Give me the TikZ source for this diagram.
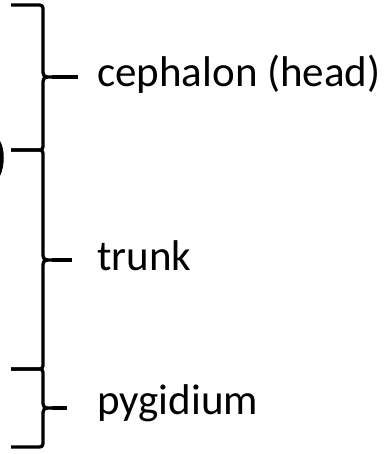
\documentclass[tikz,border=0pt]{standalone}
\usepackage{fontspec}
\setmainfont{Carlito}
\usetikzlibrary{positioning}

\tikzset{
  brace line/.style={line width=3.3pt,line cap=butt,line join=round},
  part label/.style={anchor=base west,inner sep=0pt,font=\fontsize{43}{48}\selectfont},
}

\begin{document}
\begin{tikzpicture}[x=1pt,y=-1pt]
\useasboundingbox (0,0) rectangle (387,454);
\pgfmathsetmacro{\xL}{11}
\pgfmathsetmacro{\xV}{43}
\pgfmathsetmacro{\rC}{7}
\pgfmathsetmacro{\rM}{9}
%
% edge of the animal, cut off at the left
\fill (0,141) .. controls (5,149) and (5,166) .. (0,176) -- cycle;
%
% three braces: top, tip, bottom, tip length
\foreach \yT/\yM/\yB/\xT/\nm in {5/77/150/78/ceph, 150/260/369/72/trunk, 369/408/447/67/pyg}{
  \draw[brace line] (\xL,\yT) -- (\xV-\rC,\yT) .. controls (\xV,\yT) .. (\xV,\yT+\rC)
    -- (\xV,\yM-\rM) .. controls (\xV,\yM) .. (\xV+\rM,\yM)
    .. controls (\xV,\yM) .. (\xV,\yM+\rM)
    -- (\xV,\yB-\rC) .. controls (\xV,\yB) .. (\xV-\rC,\yB) -- (\xL,\yB);
  \coordinate (\nm tip) at (\xV+\rM,\yM);
  \coordinate (\nm end) at (\xT,\yM);
  \draw[brace line] (\nm tip) -- (\nm end);
}
%
\node[part label] (ceph) at (97,87) {cephalon (head)};
\node[part label] (trunk) at (97,270) {trunk};
\node[part label] (pyg) at (97,414) {pygidium};
\end{tikzpicture}
\end{document}
